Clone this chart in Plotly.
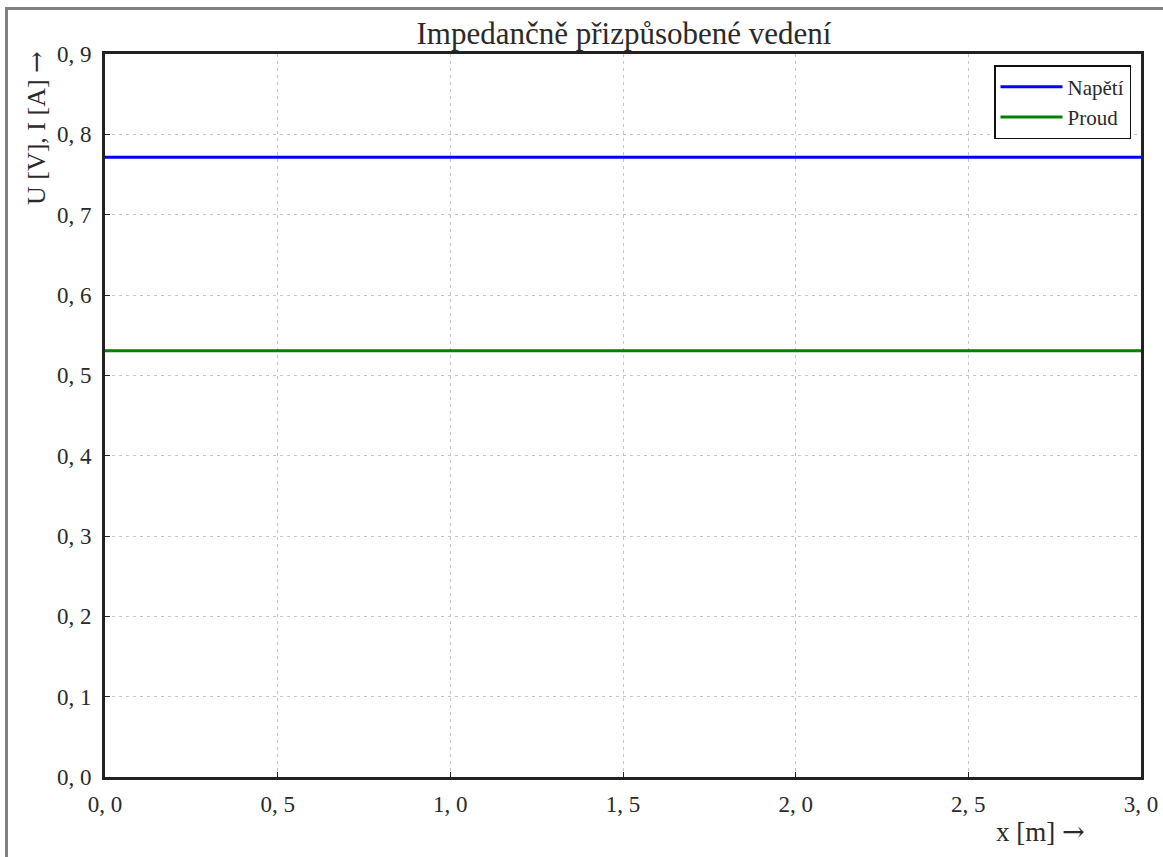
import numpy as np
import plotly.graph_objects as go

x_vals = [0.0, 0.5, 1.0, 1.5, 2.0, 2.5, 3.0]
napeti = [0.7715, 0.7715, 0.7715, 0.7715, 0.7715, 0.7715, 0.7715]
proud = [0.5305, 0.5305, 0.5305, 0.5305, 0.5305, 0.5305, 0.5305]
x_ticks = [0.0, 0.5, 1.0, 1.5, 2.0, 2.5, 3.0]
x_ticktext = ["0, 0", "0, 5", "1, 0", "1, 5", "2, 0", "2, 5", "3, 0"]
y_ticks = [0.0, 0.1, 0.2, 0.3, 0.4, 0.5, 0.6, 0.7, 0.8, 0.9]
y_ticktext = ["0, 0", "0, 1", "0, 2", "0, 3", "0, 4", "0, 5", "0, 6", "0, 7", "0, 8", "0, 9"]

FONT = "Liberation Serif"
TXT = "#2a2a2a"
ARROW = "<span style='font-family:DejaVu Serif'>→</span>"

fig = go.Figure()
fig.add_trace(go.Scatter(x=x_vals, y=napeti, mode="lines", name="Napětí",
                         line=dict(color="#0000ff", width=3)))
fig.add_trace(go.Scatter(x=x_vals, y=proud, mode="lines", name="Proud",
                         line=dict(color="#008000", width=3)))

L, R, T, B = 105, 22, 54, 80
W, H = 1163, 857
pw, ph = W - L - R, H - T - B

def px2paper_x(px):
    return (px - L) / pw

def px2paper_y(py):
    return (H - B - py) / ph

axis_common = dict(showgrid=True, gridcolor="#c4c4c4", griddash="3px,4px", gridwidth=1,
                   showline=True, linecolor="#222222", linewidth=3, mirror=True,
                   ticks="inside", ticklen=5, tickcolor="#222222", zeroline=False,
                   automargin=False,
                   tickfont=dict(family=FONT, size=23, color=TXT))

fig.update_layout(
    width=W, height=H,
    margin=dict(l=L, r=R, t=T, b=B, autoexpand=False),
    paper_bgcolor="white", plot_bgcolor="white",
    title=dict(text="Impedančně přizpůsobené vedení", x=624 / W, xanchor="center",
               y=1 - 33 / H, yanchor="middle",
               font=dict(family=FONT, size=31, color=TXT)),
    xaxis=dict(range=[0, 3], tickvals=x_ticks, ticktext=x_ticktext, ticklabelstandoff=4,
               **axis_common),
    yaxis=dict(range=[0, 0.9], tickvals=y_ticks, ticktext=y_ticktext, ticklabelstandoff=6,
               **axis_common),
    showlegend=True,
    legend=dict(x=px2paper_x(1131), y=px2paper_y(65), xanchor="right", yanchor="top",
                bgcolor="white", bordercolor="#111111", borderwidth=1.5,
                font=dict(family=FONT, size=21, color=TXT),
                itemwidth=62, tracegroupgap=2),
    annotations=[
        dict(text="x [m] " + ARROW, xref="paper", yref="paper",
             x=px2paper_x(1040), y=px2paper_y(831), xanchor="center", yanchor="middle",
             showarrow=False, font=dict(family=FONT, size=27, color=TXT)),
        dict(text="U [V], I [A] " + ARROW, xref="paper", yref="paper",
             x=px2paper_x(36), y=px2paper_y(128), xanchor="center", yanchor="middle",
             textangle=-90, showarrow=False, font=dict(family=FONT, size=26, color=TXT)),
    ],
    shapes=[
        dict(type="line", xref="paper", yref="paper",
             x0=px2paper_x(6.5), x1=px2paper_x(6.5), y0=px2paper_y(7), y1=px2paper_y(H + 5),
             line=dict(color="#808080", width=3)),
        dict(type="line", xref="paper", yref="paper",
             x0=px2paper_x(5), x1=px2paper_x(W + 5), y0=px2paper_y(8.5), y1=px2paper_y(8.5),
             line=dict(color="#808080", width=3)),
    ],
)

fig.write_html("out.html")
